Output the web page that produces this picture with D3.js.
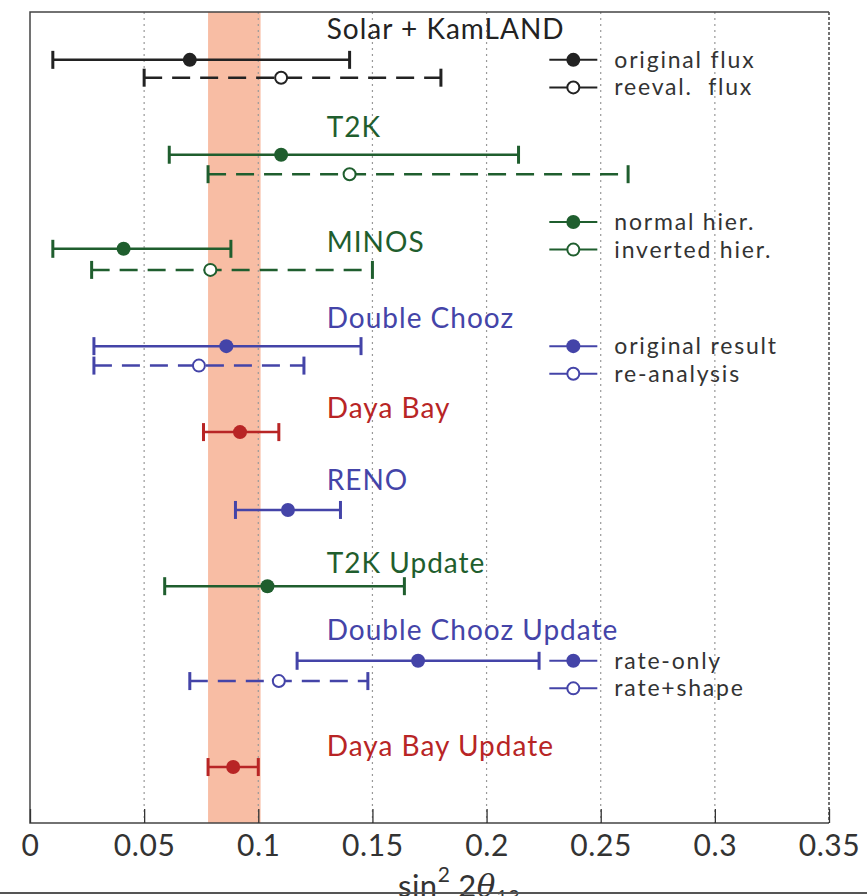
<!DOCTYPE html>
<html>
<head>
<meta charset="utf-8">
<script src="https://cdn.jsdelivr.net/npm/d3@7"></script>
<style>
  body { margin: 0; background: #fff; }
  svg { display: block; font-family: 'Lato', 'DejaVu Sans', sans-serif; }
</style>
</head>
<body>
<div id="chart"></div>
<script>
// experiments, their label colours and where the label sits (row units)
const experiments = ['Solar + KamLAND', 'T2K', 'MINOS', 'Double Chooz', 'Daya Bay', 'RENO', 'T2K Update', 'Double Chooz Update', 'Daya Bay Update'];
const expColors = ['#222222', '#1f5e2e', '#1f5e2e', '#4444a8', '#b82525', '#4444a8', '#1f5e2e', '#4444a8', '#b82525'];
const labelRow = [9.67, 8.46, 7.04, 6.10, 4.99, 4.11, 3.08, 2.26, 0.83];

// measurements: experiment index, filled/open, low, best, high, row
const measExp   = [0, 0, 1, 1, 2, 2, 3, 3, 4, 5, 6, 7, 7, 8];
const measOpen  = [false, true, false, true, false, true, false, true, false, false, false, false, true, false];
const measLow   = [0.010, 0.050, 0.061, 0.078, 0.010, 0.027, 0.028, 0.028, 0.076, 0.090, 0.059, 0.117, 0.070, 0.078];
const measBest  = [0.070, 0.110, 0.110, 0.140, 0.041, 0.079, 0.086, 0.074, 0.092, 0.113, 0.104, 0.170, 0.109, 0.089];
const measHigh  = [0.140, 0.180, 0.214, 0.262, 0.088, 0.150, 0.145, 0.120, 0.109, 0.136, 0.164, 0.223, 0.148, 0.100];
const measRow   = [9.41, 9.19, 8.24, 8.00, 7.08, 6.82, 5.88, 5.64, 4.82, 3.86, 2.92, 2.00, 1.75, 0.69];

// legend entries
const legendText  = ['original flux', 'reeval.  flux', 'normal hier.', 'inverted hier.', 'original result', 're-analysis', 'rate-only', 'rate+shape'];
const legendColor = ['#222222', '#222222', '#1f5e2e', '#1f5e2e', '#4444a8', '#4444a8', '#4444a8', '#4444a8'];
const legendOpen  = [false, true, false, true, false, true, false, true];
const legendRow   = [9.41, 9.07, 7.41, 7.07, 5.88, 5.54, 2.00, 1.66];

// global average band
const band = [0.078, 0.101];
const xTicks = [0, 0.05, 0.1, 0.15, 0.2, 0.25, 0.3, 0.35];

const W = 867, H = 896;
const margin = { top: 12, right: 38, bottom: 73, left: 30 };
const width = W - margin.left - margin.right,
  height = H - margin.top - margin.bottom;

const svg = d3.select('#chart').append('svg')
  .attr('width', W).attr('height', H);

const g = svg.append('g')
  .attr('transform', 'translate(' + margin.left + ',' + margin.top + ')');

const x = d3.scaleLinear().domain([0, 0.35]).range([0, width]);
const y = d3.scaleLinear().domain([0, 10]).range([height, 0]);

// band
g.append('rect')
  .attr('x', x(band[0])).attr('y', 0)
  .attr('width', x(band[1]) - x(band[0])).attr('height', height)
  .attr('fill', '#f8bda4');

// dotted grid
g.selectAll('.grid').data(xTicks.slice(1, -1)).enter().append('line')
  .attr('x1', d => x(d)).attr('x2', d => x(d))
  .attr('y1', 0).attr('y2', height)
  .attr('stroke', '#999').attr('stroke-width', 1.2)
  .attr('stroke-dasharray', '2,4');

// frame
g.append('path')
  .attr('d', 'M' + width + ',0H0V' + height + 'H' + width)
  .attr('fill', 'none').attr('stroke', '#444').attr('stroke-width', 1.5);
g.append('line')
  .attr('x1', width).attr('x2', width).attr('y1', 0).attr('y2', height)
  .attr('stroke', '#444').attr('stroke-width', 1.5).attr('stroke-dasharray', '3,2');

// bottom axis
const axis = g.append('g')
  .attr('transform', 'translate(0,' + height + ')')
  .call(d3.axisBottom(x).tickValues(xTicks).tickSize(-14).tickPadding(12)
    .tickFormat(d => d === 0 ? '0' : String(+d.toFixed(2))));
axis.select('.domain').remove();
axis.selectAll('.tick line').attr('stroke', '#333').attr('stroke-width', 1.3);
axis.selectAll('.tick text')
  .attr('fill', '#333').attr('font-size', 30).attr('letter-spacing', 0.6)
  .attr('font-family', "'Lato', 'DejaVu Sans', sans-serif");

// axis label (cut by the bottom edge, as in the source)
const lab = svg.append('text')
  .attr('x', 398).attr('y', 897)
  .attr('fill', '#333').attr('font-size', 31).attr('letter-spacing', 0.5)
  .attr('font-family', "'Lato', 'DejaVu Sans', sans-serif");
lab.append('tspan').text('sin');
lab.append('tspan').attr('dy', -15).attr('font-size', 21).text('2');
lab.append('tspan').attr('dy', 15).attr('dx', 8).text('2');
lab.append('tspan').attr('font-style', 'italic').attr('font-family', "'DejaVu Serif', serif").text('θ');
lab.append('tspan').attr('dy', 7).attr('font-size', 20).text('13');

svg.append('line')
  .attr('x1', 0).attr('x2', W).attr('y1', 893).attr('y2', 893)
  .attr('stroke', '#555').attr('stroke-width', 2);

// experiment labels
g.selectAll('.label').data(experiments).enter().append('text')
  .attr('x', x(0.13)).attr('y', (d, i) => y(labelRow[i]))
  .attr('fill', (d, i) => expColors[i])
  .attr('font-size', 28).attr('letter-spacing', 1)
  .text(d => d);

// error bars
const meas = measExp.map((e, i) => ({
  e: e, open: measOpen[i], lo: measLow[i], best: measBest[i], hi: measHigh[i], row: measRow[i]
}));

const bars = g.selectAll('.meas').data(meas).enter().append('g');
bars.append('line')
  .attr('x1', d => x(d.lo)).attr('x2', d => x(d.hi))
  .attr('y1', d => y(d.row)).attr('y2', d => y(d.row))
  .attr('stroke', d => expColors[d.e]).attr('stroke-width', 2.5)
  .attr('stroke-dasharray', d => d.open ? '18,10' : null);
[d => d.lo, d => d.hi].forEach(f => {
  bars.append('line')
    .attr('x1', d => x(f(d))).attr('x2', d => x(f(d)))
    .attr('y1', d => y(d.row) - 9).attr('y2', d => y(d.row) + 9)
    .attr('stroke', d => expColors[d.e]).attr('stroke-width', 3);
});
bars.append('circle')
  .attr('cx', d => x(d.best)).attr('cy', d => y(d.row))
  .attr('r', d => d.open ? 6 : 7)
  .attr('fill', d => d.open ? '#fff' : expColors[d.e])
  .attr('stroke', d => expColors[d.e]).attr('stroke-width', d => d.open ? 2 : 0);

// legends
const leg = g.selectAll('.leg').data(legendText).enter().append('g')
  .attr('transform', (d, i) => 'translate(' + x(0.238) + ',' + y(legendRow[i]) + ')');
leg.append('line')
  .attr('x1', -24).attr('x2', 24)
  .attr('stroke', (d, i) => legendColor[i]).attr('stroke-width', 2);
leg.append('circle')
  .attr('r', (d, i) => legendOpen[i] ? 6 : 7)
  .attr('fill', (d, i) => legendOpen[i] ? '#fff' : legendColor[i])
  .attr('stroke', (d, i) => legendColor[i]).attr('stroke-width', (d, i) => legendOpen[i] ? 2 : 0);
leg.append('text')
  .attr('x', 41).attr('dy', '0.35em')
  .attr('fill', '#333').attr('font-size', 23).attr('letter-spacing', 1.8)
  .style('white-space', 'pre')
  .text(d => d);
</script>
</body>
</html>
